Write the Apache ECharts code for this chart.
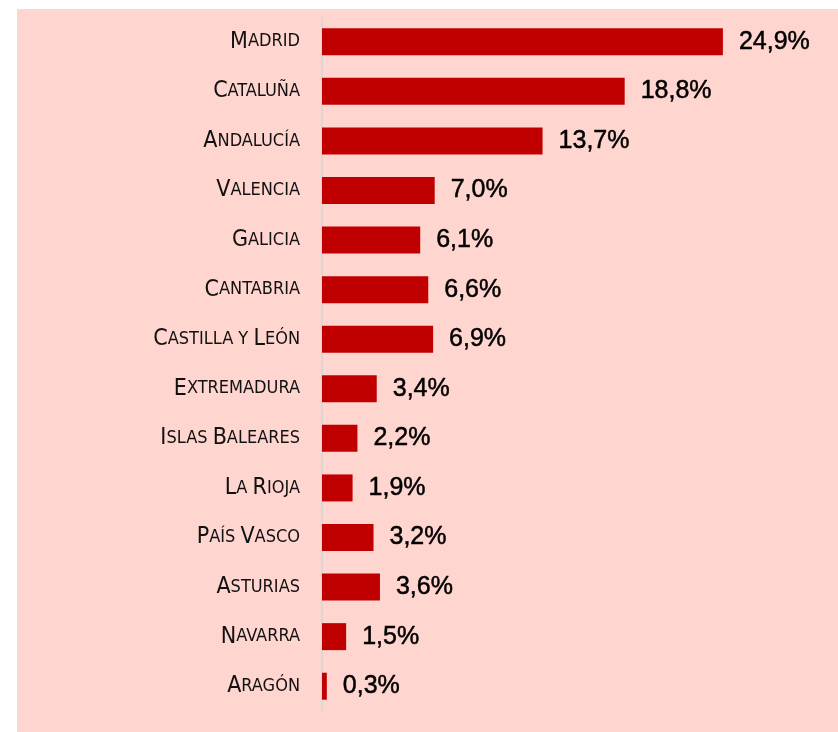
<!DOCTYPE html>
<html lang="es">
<head>
    <meta charset="UTF-8">
    <title>Comunidades</title>
    <style>
        body { margin: 0; background: #fff; }
        #main { position: absolute; left: 17px; top: 9px; width: 821px; height: 723px; background: #ffd5d0; }
    </style>
</head>
<body>
<div id="main"></div>
<script src="https://cdn.jsdelivr.net/npm/echarts@6/dist/echarts.min.js"></script>
<script>
    // datos
    let regiones = ['Madrid', 'Cataluña', 'Andalucía', 'Valencia', 'Galicia', 'Cantabria', 'Castilla y León',
        'Extremadura', 'Islas Baleares', 'La Rioja', 'País Vasco', 'Asturias', 'Navarra', 'Aragón'];
    let valores = [24.9, 18.8, 13.7, 7.0, 6.1, 6.6, 6.9, 3.4, 2.2, 1.9, 3.2, 3.6, 1.5, 0.3];

    // versalitas: mayúsculas grandes, minúsculas en mayúscula pequeña
    let versalitas = (txt) => {
        let out = '';
        let run = '', tipo = '';
        for (let ch of txt) {
            let t = (ch !== ch.toLowerCase()) ? 'g' : 'p';
            if (t !== tipo && run) {
                out += `{${tipo}|${run}}`;
                run = '';
            }
            tipo = t;
            run += ch.toUpperCase();
        }
        if (run) out += `{${tipo}|${run}}`;
        return out;
    };

    let fuente = '"Liberation Sans Narrow", "DejaVu Sans Condensed", sans-serif';
    let myChart = echarts.init(document.getElementById('main'));
    let option = {
        animation: false,
        grid: { left: 305, right: 33, top: 8, bottom: 21 },
        xAxis: {
            type: 'value',
            min: 0,
            max: 30,
            show: false
        },
        yAxis: {
            type: 'category',
            data: regiones,
            inverse: true,
            axisLine: { show: true, lineStyle: { color: '#d4d4d4', width: 1.5 } },
            axisTick: { show: false },
            axisLabel: {
                margin: 22,
                formatter: (v) => versalitas(v),
                rich: {
                    g: { fontFamily: fuente, fontSize: 23, color: '#111' },
                    p: { fontFamily: fuente, fontSize: 18, color: '#111' }
                }
            }
        },
        series: [
            {
                type: 'bar',
                data: valores,
                barWidth: 27,
                itemStyle: { color: '#c00000' },
                label: {
                    show: true,
                    position: 'right',
                    distance: 16,
                    fontFamily: '"Liberation Sans", Arial, sans-serif',
                    fontSize: 25,
                    color: '#000',
                    textBorderColor: '#000',
                    textBorderWidth: 0.5,
                    formatter: (p) => p.value.toFixed(1).replace('.', ',') + '%'
                }
            }
        ]
    };
    myChart.setOption(option);
</script>
</body>
</html>
